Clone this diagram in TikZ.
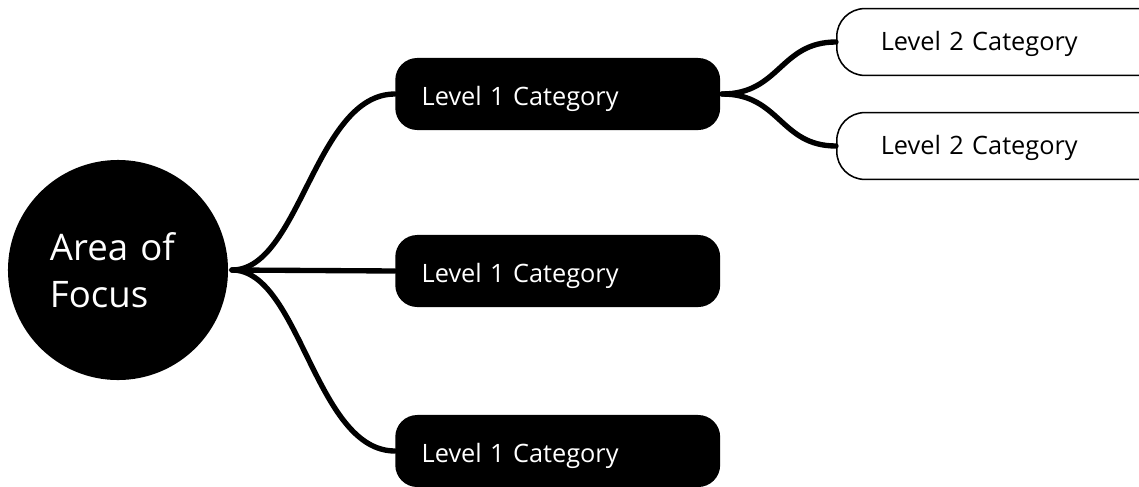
\documentclass[tikz,border=0pt]{standalone}
\usepackage{fontspec}
\setmainfont{Open Sans}
\usetikzlibrary{positioning}
\tikzset{
  focus/.style={circle, fill=black, text=white, minimum size=5.5cm, inner sep=0pt, align=left,
    text width=3.4cm, font=\fontsize{26}{33.5}\selectfont},
  levelone/.style={rectangle, rounded corners=0.55cm, fill=black, text=white, anchor=west,
    minimum height=1.8cm, text width=6.8cm, inner xsep=0.66cm, align=left,
    text height=16pt, text depth=0pt, font=\fontsize{18}{20}\selectfont},
  leveltwo/.style={rectangle, rounded corners=0.7cm, draw=black, line width=1.1pt, fill=white, anchor=west,
    minimum height=1.67cm, text width=6.2cm, inner xsep=1.1cm, align=left,
    text height=12pt, text depth=0pt, font=\fontsize{18}{20}\selectfont},
  branch/.style={line width=3.8pt, line cap=round}
}
\begin{document}
\begin{tikzpicture}[x=0.025cm,y=-0.025cm]
	\useasboundingbox (0,0) rectangle (1139,487);

	%%% centre
	\node[focus] (focus) at (118,270) {Area of\\Focus};
	\coordinate (hub) at (232,270);

	%%% first level
	\node[levelone] (catA) at (395,94) {Level 1 Category};
	\node[levelone] (catB) at (395,271) {Level 1 Category};
	\node[levelone] (catC) at (395,451) {Level 1 Category};

	%%% second level
	\node[leveltwo] (subA) at (836,42) {Level 2 Category};
	\node[leveltwo] (subB) at (836,146) {Level 2 Category};

	% branches
	\draw[branch] (hub) .. controls (300,270) and (315,94) .. (catA.west);
	\draw[branch] (hub) -- (catB.west);
	\draw[branch] (hub) .. controls (300,270) and (315,451) .. (catC.west);

	\coordinate (forkA) at (722,94);
	\draw[branch] (forkA) .. controls (780,94) and (780,42) .. (subA.west);
	\draw[branch] (forkA) .. controls (780,94) and (780,146) .. (subB.west);
\end{tikzpicture}
\end{document}
